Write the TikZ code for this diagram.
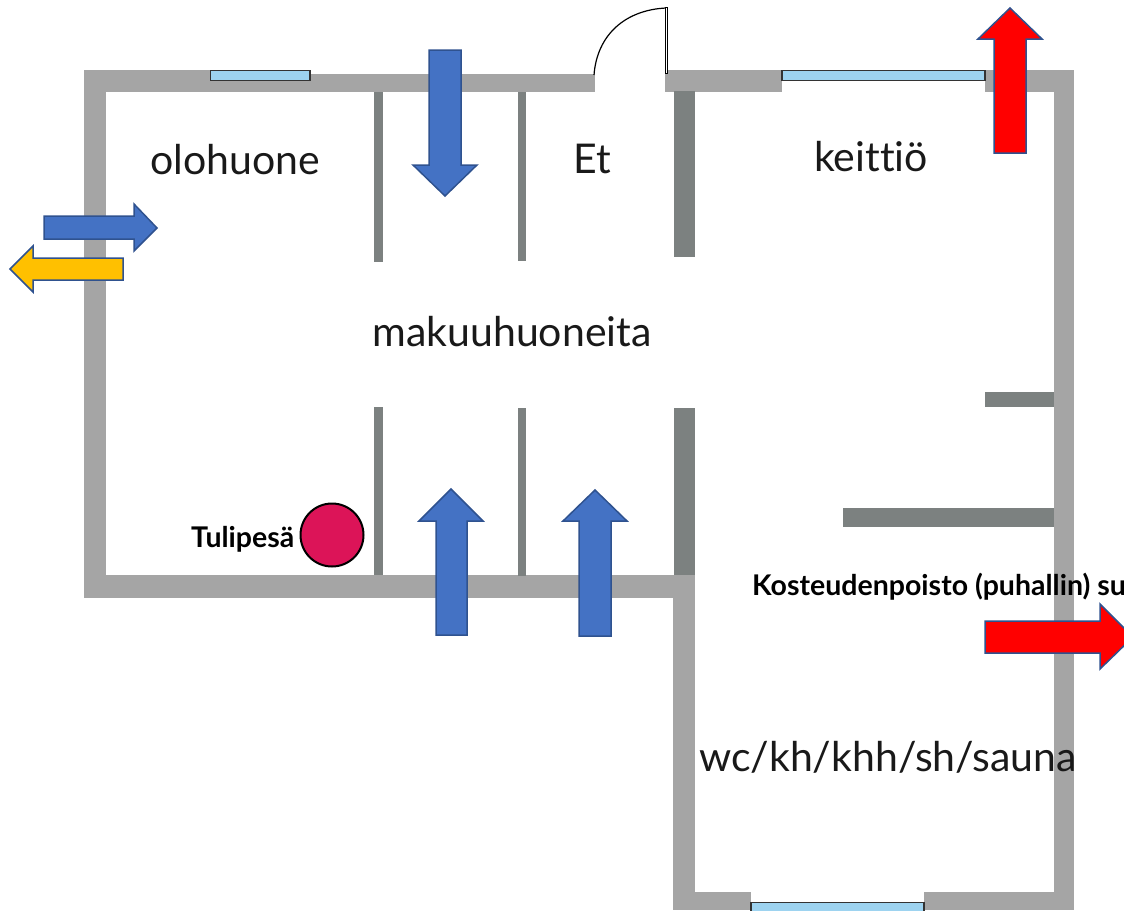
\documentclass[tikz,border=0pt]{standalone}
\usepackage{fontspec}
\setmainfont[Ligatures = NoCommon]{Lato}
\definecolor{wallgray}{HTML}{A5A5A5}
\definecolor{innergray}{HTML}{7C8180}
\definecolor{glassblue}{HTML}{9DD3F0}
\definecolor{flowblue}{HTML}{4472C4}
\definecolor{flowedge}{HTML}{2F528F}
\definecolor{flowyellow}{HTML}{FFC000}
\definecolor{fireplace}{HTML}{DC1458}
\begin{document}
\begin{tikzpicture}[
  x = 1pt,
  y = -1pt,
  wall/.style = {
    fill = wallgray,
  },
  inner wall/.style = {
    fill = innergray,
  },
  window/.style = {
    draw = black!80,
    line width = 1.2pt,
    fill = glassblue,
  },
  flow/.style = {
    draw = flowedge,
    line width = 1.5pt,
    line join = miter,
  },
  room/.style = {
    font = \fontsize{41}{41}\selectfont,
    inner sep = 0pt,
    text = black!90,
  },
  note/.style = {
    font = \fontsize{28.5}{28.5}\selectfont\bfseries,
    inner sep = 0pt,
    text = black,
  }
]
  \useasboundingbox (0, 0) rectangle (1124, 910);

  % outer walls
  \fill[wall] (84, 70) rectangle (210, 92);
  \fill[wall] (84, 70) rectangle (106, 598);
  \fill[wall] (210, 74) rectangle (595, 92);
  \fill[wall] (665, 70) rectangle (782, 92);
  \fill[wall] (985, 70) rectangle (1074, 92);
  \fill[wall] (1054, 70) rectangle (1074, 910);
  \fill[wall] (84, 575) rectangle (695, 598);
  \fill[wall] (673, 575) rectangle (695, 910);
  \fill[wall] (673, 892) rectangle (751, 910);
  \fill[wall] (924, 892) rectangle (1074, 910);

  % inner walls
  \fill[inner wall] (674, 91) rectangle (695, 257);
  \fill[inner wall] (674, 408) rectangle (695, 575);
  \fill[inner wall] (374, 92) rectangle (383, 262);
  \fill[inner wall] (518, 92) rectangle (526, 261);
  \fill[inner wall] (374, 407) rectangle (383, 575);
  \fill[inner wall] (518, 408) rectangle (526, 576);
  \fill[inner wall] (985, 392) rectangle (1054, 407);
  \fill[inner wall] (843, 508) rectangle (1054, 527);

  % windows
  \draw[window] (210.5, 70.5) rectangle (310, 80.5);
  \draw[window] (782, 70.5) rectangle (985, 80.5);
  \draw[window] (751, 902.5) rectangle (924, 915);

  % door
  \draw[line width = 1.2pt] (594, 75) .. controls (597, 35) and (625, 10) .. (666, 8);
  \draw[line width = 1pt, fill = white] (665.5, 7.5) rectangle (667.5, 73);

  % air flows
  \begin{scope}[every path/.style = { flow }]
    \draw[fill = flowblue] (429, 50) -- (461, 50) -- (461, 165) -- (477, 165) -- (445, 196)
      -- (413, 165) -- (429, 165) -- cycle;
    \draw[fill = red] (994, 153) -- (1026, 153) -- (1026, 39) -- (1042, 39) -- (1010, 8)
      -- (978, 39) -- (994, 39) -- cycle;
    \draw[fill = flowblue] (44, 216) -- (134, 216) -- (134, 204) -- (157, 228) -- (134, 251)
      -- (134, 239) -- (44, 239) -- cycle;
    \draw[fill = flowyellow] (123, 258) -- (33, 258) -- (33, 246) -- (10, 269) -- (33, 292)
      -- (33, 280) -- (123, 280) -- cycle;
    \draw[fill = flowblue] (436, 635) -- (467, 635) -- (467, 521) -- (483, 521) -- (451, 489)
      -- (419, 521) -- (436, 521) -- cycle;
    \draw[fill = flowblue] (579, 636) -- (611, 636) -- (611, 521) -- (627, 521) -- (595, 490)
      -- (563, 521) -- (579, 521) -- cycle;
    \draw[fill = red] (985, 621) -- (1100, 621) -- (1100, 604) -- (1133, 637) -- (1100, 669)
      -- (1100, 653) -- (985, 653) -- cycle;
  \end{scope}

  % fireplace
  \node[circle, draw = black, line width = 2pt, fill = fireplace, minimum size = 63pt,
    inner sep = 0pt] (tulipesa) at (332, 535) {};

  % labels
  \node[room] (olohuone) at (235, 160) {olohuone};
  \node[room] (et) at (592, 159) {Et};
  \node[room] (keittio) at (871, 157) {keittiö};
  \node[room] (makuuhuoneita) at (512, 332) {makuuhuoneita};
  \node[room] (pesutilat) at (888, 757) {wc/kh/khh/sh/sauna};
  \node[note, left = 5pt, yshift = -4pt] (tulipesalabel) at (tulipesa.west) {Tulipesä};
  \node[note, anchor = west] (kosteudenpoisto) at (752, 587) {Kosteudenpoisto (puhallin) su};
\end{tikzpicture}
\end{document}
